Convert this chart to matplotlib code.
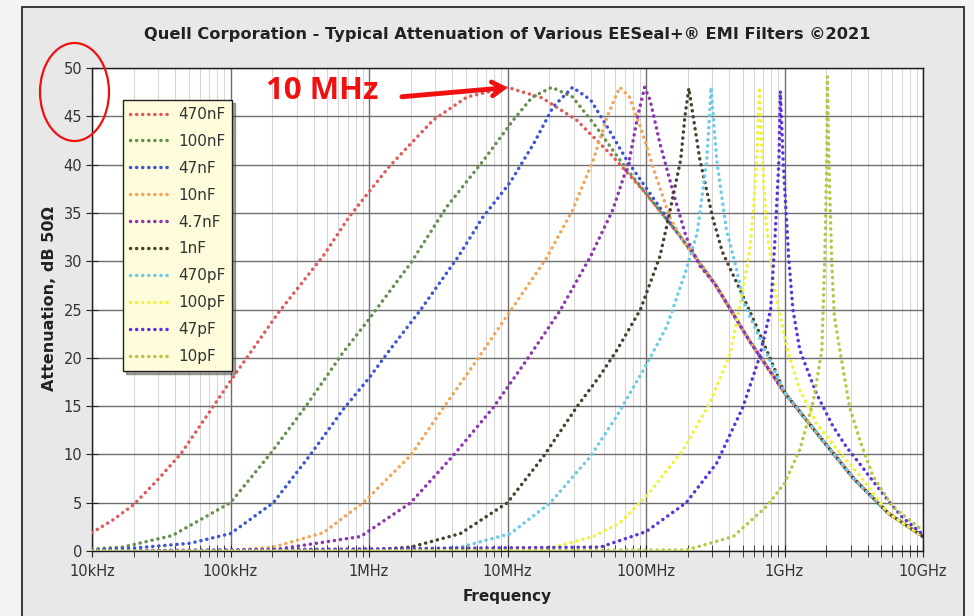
import matplotlib
matplotlib.use('Agg')
import matplotlib.pyplot as plt
from matplotlib.patches import Ellipse, Rectangle
from matplotlib.ticker import FixedLocator, NullFormatter

# common roll-off above resonance, every filter ends up on it
tail_f = [1.78e7, 3.16e7, 5.62e7, 1e8, 1.78e8, 3.16e8, 5.62e8, 1e9, 1.78e9, 3.16e9, 5.62e9, 1e10]
tail_db = [46.9, 44.6, 41.0, 37.0, 32.5, 27.6, 21.7, 16.4, 11.9, 7.5, 3.9, 1.5]

f_470n = [1e4, 1.41e4, 2e4, 2.95e4, 4.4e4, 6.6e4, 1e5, 2.2e5, 4.7e5, 7.2e5, 1.4e6, 2.9e6, 5.1e6, 1e7]
db_470n = [1.9, 3.2, 4.8, 7.3, 10.1, 13.8, 17.6, 24.6, 30.6, 34.6, 39.8, 44.6, 47.0, 48.0]

f_100n = [1e4, 1.66e4, 3.8e4, 1e5, 1.95e5, 3.55e5, 6.46e5, 1e6, 2e6, 3.63e6, 6.76e6,
          1.1e7, 1.51e7, 2.09e7, 2.95e7, 4.37e7, 6.46e7]
db_100n = [0.2, 0.4, 1.6, 5.0, 10.1, 15.1, 20.5, 24.0, 29.8, 35.6, 40.5,
           44.6, 47.0, 48.0, 47.0, 43.9, 40.5]

f_47n = [1e4, 2e4, 5.1e4, 1e5, 2.04e5, 3.7e5, 6.46e5, 1e6, 1.41e6, 2.34e6, 4.47e6,
         6.6e6, 1.05e7, 1.55e7, 2.14e7, 2.95e7, 3.98e7, 5.25e7, 7.24e7, 1e8]
db_47n = [0.1, 0.3, 0.8, 1.8, 5.0, 9.8, 14.6, 17.9, 20.8, 24.9, 30.6,
          34.5, 38.2, 42.2, 46.0, 48.0, 46.7, 43.9, 40.5, 37.6]

f_10n = [1e4, 1e5, 2.04e5, 4.68e5, 9.1e5, 2e6, 3.47e6, 6.03e6, 1.02e7, 1.91e7, 2.95e7,
         4.17e7, 5.25e7, 6.46e7, 7.59e7, 9.12e7, 1.12e8, 1.48e8]
db_10n = [0.0, 0.05, 0.4, 1.9, 5.0, 9.9, 14.9, 19.8, 24.6, 30.3, 35.3,
          40.5, 45.0, 48.0, 47.0, 43.9, 39.8, 34.6]

f_4n7 = [1e4, 2e5, 8.7e5, 2e6, 4.07e6, 7.94e6, 1.38e7, 2.4e7, 3.98e7, 5.75e7, 7.59e7,
         8.71e7, 9.77e7, 1.07e8, 1.26e8, 1.58e8, 1.95e8, 2.45e8]
db_4n7 = [0.0, 0.1, 1.5, 5.0, 9.9, 14.9, 19.8, 24.9, 30.5, 35.3, 40.5,
          45.0, 48.0, 46.7, 42.2, 37.0, 32.5, 29.5]

f_1n = [1e4, 1e6, 2e6, 4.57e6, 1e7, 1.82e7, 3.16e7, 4.68e7, 6.17e7, 9.12e7, 1.26e8,
        1.41e8, 1.78e8, 1.91e8, 2.04e8, 2.19e8, 2.45e8, 3.02e8, 3.55e8, 4.79e8, 6.31e8]
db_1n = [0.0, 0.1, 0.4, 1.8, 5.0, 9.8, 14.9, 18.2, 20.8, 25.0, 30.5,
         33.6, 40.5, 45.0, 47.9, 45.0, 40.5, 34.6, 31.0, 27.0, 23.2]

f_470p = [1e4, 2e6, 4.57e6, 1.05e7, 2.04e7, 3.98e7, 6.17e7, 9.55e7, 1.41e8, 1.95e8,
          2.34e8, 2.75e8, 2.95e8, 3.24e8, 3.8e8, 4.47e8, 5.01e8, 5.62e8, 7.08e8, 9.33e8]
db_470p = [0.0, 0.1, 0.4, 1.8, 5.0, 9.8, 14.0, 18.7, 23.2, 29.1,
           32.9, 40.5, 48.0, 40.5, 33.3, 29.4, 26.0, 24.3, 21.1, 17.4]

f_100p = [1e4, 1.82e7, 4.17e7, 6.46e7, 1e8, 1.86e8, 2.88e8, 4.07e8, 5.01e8, 5.62e8,
          5.89e8, 6.31e8, 6.61e8, 6.92e8, 7.41e8, 8.51e8, 1.05e9, 1.29e9, 1.7e9, 2.4e9, 3.55e9]
db_100p = [0.0, 0.1, 1.5, 2.9, 5.6, 10.5, 15.3, 20.5, 27.0, 31.2,
           34.6, 40.5, 48.0, 40.5, 33.6, 27.0, 20.8, 16.7, 13.2, 10.5, 7.7]

f_47p = [1e4, 4.68e7, 1e8, 1.95e8, 3.24e8, 5.01e8, 6.61e8, 7.94e8, 8.51e8, 9.12e8, 9.33e8,
         9.77e8, 1.07e9, 1.15e9, 1.29e9, 1.7e9, 2.24e9, 2.82e9, 3.55e9, 4.37e9, 5.62e9, 7.08e9, 1e10]
db_47p = [0.0, 0.4, 2.0, 5.0, 9.1, 14.9, 20.1, 25.0, 32.0, 40.5, 47.6,
          40.5, 30.5, 25.0, 20.8, 16.3, 12.9, 10.7, 8.9, 7.2, 5.2, 3.5, 1.7]

f_10p = [1e4, 1.95e8, 4.27e8, 7.41e8, 1e9, 1.29e9, 1.62e9, 1.86e9, 1.95e9, 2.02e9,
         2.04e9, 2.09e9, 2.19e9, 2.29e9, 2.51e9, 2.95e9, 3.55e9, 4.37e9, 6.03e9, 1e10]
db_10p = [0.0, 0.1, 1.5, 4.6, 7.0, 10.5, 15.6, 20.8, 30.0, 40.5,
          49.1, 40.5, 30.1, 24.3, 20.8, 14.9, 11.2, 7.7, 4.6, 2.1]

labels = ['470nF', '100nF', '47nF', '10nF', '4.7nF', '1nF', '470pF', '100pF', '47pF', '10pF']
freqs = [f_470n, f_100n, f_47n, f_10n, f_4n7, f_1n, f_470p, f_100p, f_47p, f_10p]
atten = [db_470n, db_100n, db_47n, db_10n, db_4n7, db_1n, db_470p, db_100p, db_47p, db_10p]
colors = ['#e05a5a', '#66904e', '#3b55d6', '#f2a65a', '#8c35b0',
          '#45432c', '#6ccbe8', '#f2f23a', '#5a32e0', '#b9c545']

xtick_vals = [1e4, 1e5, 1e6, 1e7, 1e8, 1e9, 1e10]
xtick_labels = ['10kHz', '100kHz', '1MHz', '10MHz', '100MHz', '1GHz', '10GHz']
ytick_vals = [0, 5, 10, 15, 20, 25, 30, 35, 40, 45, 50]

W, H = 974, 616
fig = plt.figure(figsize=(W / 100, H / 100), dpi=100)
fig.patch.set_facecolor('#f3f3f3')
fig.patches.append(Rectangle((22 / W, -0.01), 942 / W, 1 - 7 / H + 0.01,
                             transform=fig.transFigure, facecolor='#e8e8e8',
                             edgecolor='#2a2a2a', lw=1.3, zorder=-10))

ax = fig.add_axes([92 / W, 1 - 551 / H, 831 / W, 483 / H])
ax.set_zorder(1)
ax.set_facecolor('white')

for f, db, c, lab in zip(freqs, atten, colors, labels):
    # own points, then the shared roll-off past the last own point
    ff = list(f) + [t for t in tail_f if t > f[-1]]
    dd = list(db) + [d for t, d in zip(tail_f, tail_db) if t > f[-1]]
    ax.plot(ff, dd, color=c, lw=2.5, linestyle=(0, (0.05, 1.7)),
            dash_capstyle='round', label=lab, zorder=3)

ax.set_xscale('log')
ax.set_xlim(1e4, 1e10)
ax.set_ylim(0, 50)
ax.set_xticks(xtick_vals)
ax.set_xticklabels(xtick_labels)
ax.xaxis.set_minor_locator(FixedLocator([m * 10 ** e for e in range(4, 10) for m in range(2, 10)]))
ax.xaxis.set_minor_formatter(NullFormatter())
ax.set_yticks(ytick_vals)

ax.grid(True, which='major', color='#6e6e6e', lw=1.0, zorder=1)
ax.grid(True, which='minor', axis='x', color='#d6d6d6', lw=0.8, zorder=1)
ax.set_axisbelow(True)

ax.tick_params(axis='both', which='both', direction='inout', colors='#222',
               labelcolor='#333', labelsize=10.5)
ax.tick_params(axis='x', which='major', length=8, pad=5)
ax.tick_params(axis='x', which='minor', length=8)
ax.tick_params(axis='y', which='major', length=8, pad=3)
for s in ax.spines.values():
    s.set_color('#1a1a1a')
    s.set_linewidth(1.0)

fig.text(507 / W, 1 - 35 / H, 'Quell Corporation - Typical Attenuation of Various EESeal+\u00ae EMI Filters \u00a92021',
         ha='center', va='center', fontsize=11.7, fontweight='bold', color='#222')
ax.set_xlabel('Frequency', fontsize=11, fontweight='bold', color='#222')
ax.xaxis.set_label_coords(0.5, -0.078)
ax.set_ylabel('Attenuation, dB 50\u03a9', fontsize=11.5, fontweight='bold', color='#222')
ax.yaxis.set_label_coords(-0.042, 0.523)

leg = ax.legend(loc='upper left', bbox_to_anchor=((123 - 92) / 831, (551 - 100) / 483),
                borderaxespad=0, fontsize=11, handlelength=2.6, handletextpad=0.55,
                labelspacing=0.78, borderpad=0.45, fancybox=False, shadow=True,
                facecolor='#fffcdc', edgecolor='#222', framealpha=1)
leg.get_frame().set_linewidth(1.0)
for t in leg.get_texts():
    t.set_color('#333')

# red markup drawn over the screenshot
ax.annotate('', xy=(1.05e7, 48.0), xytext=(1.65e6, 47.0),
            arrowprops=dict(arrowstyle='->,head_length=0.8,head_width=0.5', lw=3.5, color='#f01010'),
            zorder=6)
ax.text(4.6e5, 47.6, '10 MHz', color='#f01010', fontsize=22.5, fontweight='bold',
        family='Open Sans', ha='center', va='center', zorder=6)
fig.patches.append(Ellipse((74.5 / W, 1 - 92 / H), 69 / W, 98 / H, transform=fig.transFigure,
                           fill=False, edgecolor='#f01010', lw=1.6, zorder=5))

fig.savefig('out.png', dpi=100, facecolor=fig.get_facecolor())
